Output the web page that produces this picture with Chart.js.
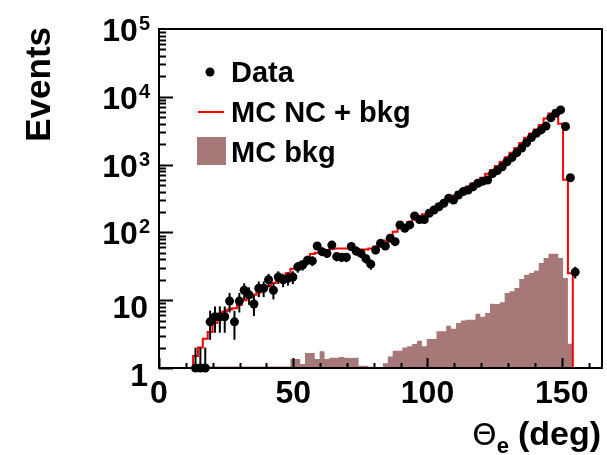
<!DOCTYPE html>
<html>
<head>
<meta charset="utf-8">
<script src="https://cdn.jsdelivr.net/npm/chart.js@4.4.1/dist/chart.umd.min.js"></script>
<style>
  html, body { margin: 0; padding: 0; background: #fff; }
  #wrap { width: 607px; height: 455px; }
</style>
</head>
<body>
<div id="wrap"><canvas id="grafico" width="607" height="455"></canvas></div>
<script>
/* Theta_e distribution: data vs MC (NC + bkg), 91 bins over 0-165 deg */

const xMin = 0, xMax = 165, yMin = 1, yMax = 1e5;
const nBins = 91;
const binWidth = (xMax - xMin) / nBins;

/* data counts per bin (null = empty bin) */
const dataCounts = [
  null, null, null, null, null, null, null, 1, 1, 1,
  4.8, 5.7, 5.7, 5.7, 9.7, 4.8, 9.7, 14, 12, 8.8,
  15, 15, 20, 14, 22, 20, 21, 22, 31, 33,
  39, 38, 63, 52, 49, 65, 44, 43, 43, 62,
  53, 49, 41, 34, 55, 69, 63, 82, 73, 129,
  115, 129, 175, 155, 155, 191, 214, 239, 269, 318,
  300, 356, 400, 422, 472, 530, 570, 593, 735, 820,
  930, 1100, 1270, 1500, 1750, 2100, 2500, 2900, 3250, 3700,
  4900, 5700, 6400, 3650, 640, 26, null, null, null, null,
  null
];

/* MC NC + bkg per bin */
const mcCounts = [
  0, 0, 0, 0, 0, 0, 0, 0, 1.5, 2.0,
  2.7, 3.4, 4.6, 5.4, 6.8, 7.3, 7.6, 8.5, 10, 11,
  12, 13, 15, 16, 18, 19, 21, 25, 29, 33,
  37, 42, 48, 50, 52, 55, 57, 58, 58, 58,
  58, 57, 56, 56, 58, 62, 67, 76, 88, 102,
  115, 128, 142, 155, 168, 185, 205, 230, 258, 288,
  315, 350, 390, 425, 470, 525, 580, 640, 730, 830,
  950, 1100, 1280, 1500, 1750, 2080, 2480, 2880, 3300, 3850,
  4800, 5650, 6300, 4000, 600, 25, 0, 0, 0, 0,
  0
];

/* MC bkg per bin */
const bkgCounts = [
  0, 0, 0, 0, 0, 0, 0, 0, 0, 0,
  1.05, 1.05, 1.05, 1.05, 1.05, 1.05, 1.05, 1.05, 1.05, 1.05,
  1.05, 1.05, 1.05, 1.05, 1.05, 1.05, 1.05, 1.05, 1.36, 1.36,
  1.15, 1.66, 1.66, 1.36, 1.76, 1.36, 1.42, 1.42, 1.45, 1.42,
  1.40, 1.42, 1.08, 1.08, 1.04, 1.03, 1.03, 1.18, 1.48, 1.8,
  1.8, 2.0, 2.1, 2.25, 2.53, 2.1, 2.68, 2.68, 3.47, 3.47,
  4.2, 3.8, 4.6, 5.0, 5.15, 5.15, 6.3, 5.7, 6.5, 8.9,
  8.8, 9.3, 12.8, 13.5, 15.1, 20.5, 23.8, 25.2, 27.2, 35.3,
  42, 48.5, 48.5, 42, 21.2, 2.28, 0, 0, 0, 0,
  0
];

const xMajorTicks = [0, 50, 100, 150];
const xTickLabels = ['0', '50', '100', '150'];
const yTickValues = [1, 10, 100, 1000, 10000, 100000];
const yTickBase = ['1', '10', '10', '10', '10', '10'];
const yTickExp = ['', '', '2', '3', '4', '5'];
const legendLabels = ['Data', 'MC NC + bkg', 'MC bkg'];

const colors = { data: '#000000', mc: '#ff0000', bkg: '#a67878', frame: '#000000' };
const FONT = '"Liberation Sans", Arial, Helvetica, sans-serif';

/* histogram edges -> stepped line points; empty bins sit on the frame bottom */
function stepPoints(counts) {
  const pts = counts.map((v, k) => ({ x: xMin + k * binWidth, y: Math.max(v, yMin) }));
  pts.push({ x: xMin + counts.length * binWidth, y: yMin });
  return pts;
}

const dataPoints = [];
dataCounts.forEach((v, k) => {
  if (v !== null) dataPoints.push({ x: xMin + (k + 0.5) * binWidth, y: v });
});

/* ROOT-like frame, inward ticks, labels, titles and legend */
const rootAxes = {
  id: 'rootAxes',
  afterDatasetsDraw(chart) {
    const { ctx, chartArea: a, scales } = chart;
    const xs = scales.x, ys = scales.y;
    // Poisson error bars on data
    ctx.save();
    ctx.beginPath();
    ctx.rect(a.left, a.top, a.right - a.left, a.bottom - a.top + 1);
    ctx.clip();
    ctx.strokeStyle = colors.data;
    ctx.lineWidth = 2;
    dataPoints.forEach(p => {
      const err = Math.sqrt(p.y);
      const px = xs.getPixelForValue(p.x);
      const y1 = ys.getPixelForValue(p.y + err);
      const y0 = p.y - err > yMin ? ys.getPixelForValue(p.y - err) : a.bottom;
      ctx.beginPath();
      ctx.moveTo(px, y0);
      ctx.lineTo(px, y1);
      ctx.stroke();
    });
    ctx.restore();
  },
  afterDraw(chart) {
    const { ctx, chartArea: a, scales } = chart;
    const xs = scales.x, ys = scales.y;
    ctx.save();
    ctx.strokeStyle = colors.frame;
    ctx.fillStyle = colors.frame;
    ctx.lineWidth = 2;
    ctx.strokeRect(a.left, a.top, a.right - a.left, a.bottom - a.top);

    // y ticks (log)
    ctx.beginPath();
    for (let n = 0; n < 5; n++) {
      for (let m = 1; m <= 9; m++) {
        const py = Math.round(ys.getPixelForValue(m * Math.pow(10, n))) + 0.5;
        const len = m === 1 ? 14 : 7;
        ctx.moveTo(a.left, py);
        ctx.lineTo(a.left + len, py);
      }
    }
    ctx.stroke();

    // x ticks every 10 deg
    ctx.beginPath();
    for (let t = 0; t <= 160; t += 10) {
      const px = Math.round(xs.getPixelForValue(t)) + 0.5;
      const len = xMajorTicks.includes(t) ? 10 : 5;
      ctx.moveTo(px, a.bottom);
      ctx.lineTo(px, a.bottom - len);
    }
    ctx.stroke();

    // y labels
    const yRight = 150;
    yTickValues.forEach((v, i) => {
      const py = ys.getPixelForValue(v);
      if (yTickExp[i]) {
        ctx.font = 'bold 20px ' + FONT;
        const ew = ctx.measureText(yTickExp[i]).width;
        ctx.textAlign = 'left';
        ctx.fillText(yTickExp[i], yRight - ew, py + 1);
        ctx.font = 'bold 32px ' + FONT;
        ctx.textAlign = 'right';
        ctx.fillText(yTickBase[i], yRight - ew - 1, py + 12);
      } else {
        ctx.font = 'bold 32px ' + FONT;
        ctx.textAlign = 'right';
        ctx.fillText(yTickBase[i], yRight - 2, py + 18);
      }
    });

    // x labels
    ctx.font = 'bold 32px ' + FONT;
    ctx.textAlign = 'center';
    xMajorTicks.forEach((t, i) => {
      ctx.fillText(xTickLabels[i], xs.getPixelForValue(t), a.bottom + 35);
    });

    // x title: Theta_e (deg)
    const tRight = 601, tBase = 445;
    ctx.font = 'bold 34px ' + FONT;
    ctx.textAlign = 'right';
    ctx.fillText('(deg)', tRight, tBase);
    const degW = ctx.measureText('(deg)').width;
    ctx.font = 'bold 22px ' + FONT;
    ctx.fillText('e', tRight - degW - 9, tBase + 8);
    const eW = ctx.measureText('e').width;
    ctx.font = '31px "DejaVu Sans", sans-serif';
    ctx.fillText('\u0398', tRight - degW - 9 - eW, tBase);

    // y title
    ctx.save();
    ctx.translate(50, 27);
    ctx.rotate(-Math.PI / 2);
    ctx.font = 'bold 35px ' + FONT;
    ctx.textAlign = 'right';
    ctx.fillText('Events', 0, 0);
    ctx.restore();

    // legend
    ctx.textAlign = 'left';
    ctx.font = 'bold 29px ' + FONT;
    ctx.beginPath();
    ctx.arc(210, 72, 4.5, 0, Math.PI * 2);
    ctx.fill();
    ctx.fillText(legendLabels[0], 231, 82);
    ctx.strokeStyle = colors.mc;
    ctx.beginPath();
    ctx.moveTo(198, 112);
    ctx.lineTo(224, 112);
    ctx.stroke();
    ctx.fillText(legendLabels[1], 231, 122);
    ctx.fillStyle = colors.bkg;
    ctx.fillRect(197, 137, 29, 28);
    ctx.fillStyle = colors.frame;
    ctx.fillText(legendLabels[2], 231, 162);
    ctx.restore();
  }
};

new Chart(document.getElementById('grafico'), {
  type: 'scatter',
  data: {
    datasets: [
      {
        label: legendLabels[0],
        data: dataPoints,
        showLine: false,
        pointRadius: 4.5,
        pointBorderWidth: 0,
        pointBackgroundColor: colors.data,
        clip: false,
        order: 0
      },
      {
        type: 'line',
        label: legendLabels[1],
        data: stepPoints(mcCounts),
        stepped: 'after',
        borderColor: colors.mc,
        borderWidth: 2,
        pointRadius: 0,
        fill: false,
        order: 1
      },
      {
        type: 'line',
        label: legendLabels[2],
        data: stepPoints(bkgCounts),
        stepped: 'after',
        borderWidth: 0,
        borderColor: colors.bkg,
        backgroundColor: colors.bkg,
        pointRadius: 0,
        fill: 'start',
        order: 2
      }
    ]
  },
  options: {
    responsive: false,
    animation: false,
    layout: { padding: { left: 159, right: 5, top: 29, bottom: 87 } },
    plugins: { legend: { display: false }, tooltip: { enabled: false } },
    scales: {
      x: { type: 'linear', min: xMin, max: xMax, display: false },
      y: { type: 'logarithmic', min: yMin, max: yMax, display: false }
    }
  },
  plugins: [rootAxes]
});
</script>
</body>
</html>
